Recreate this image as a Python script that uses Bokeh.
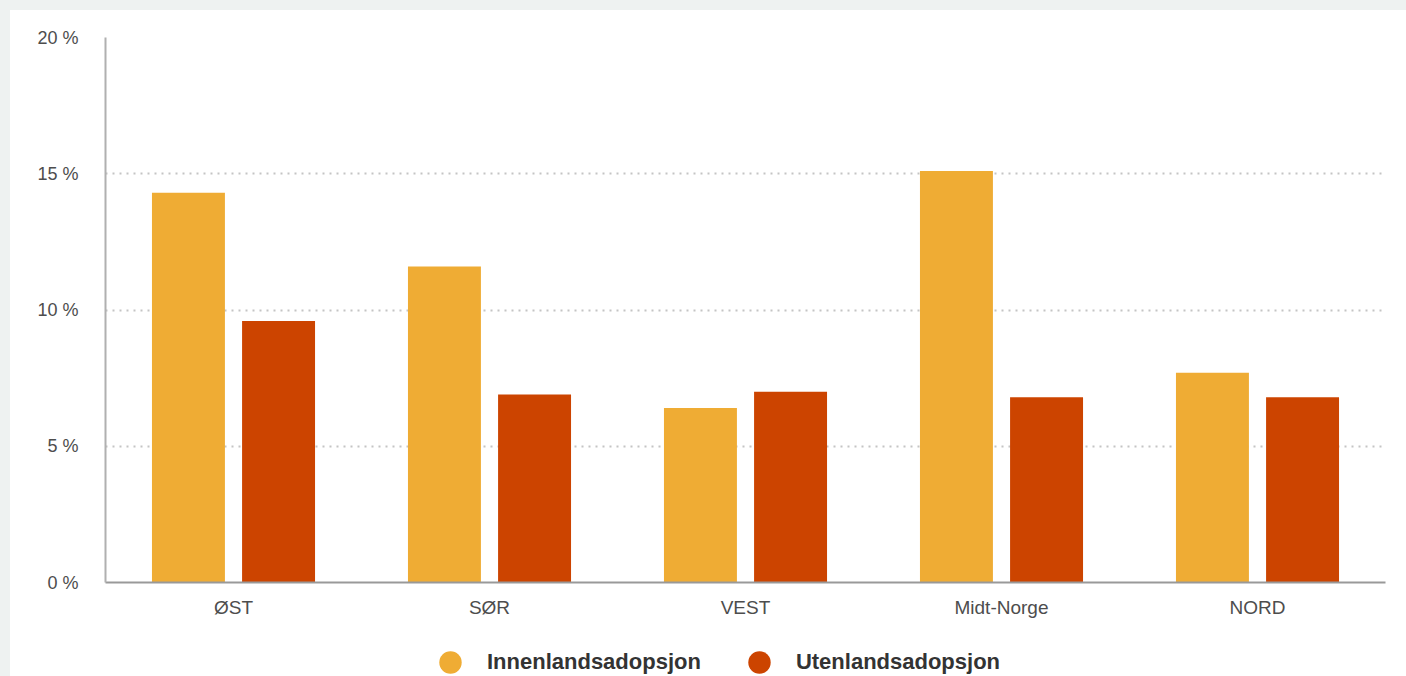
from bokeh.plotting import figure
from bokeh.layouts import column
from bokeh.models import (ColumnDataSource, FactorRange, FixedTicker, PrintfTickFormatter, Legend,
                          LegendItem)
from bokeh.transform import dodge
from bokeh.embed import file_html
from bokeh.resources import INLINE

regions = ["ØST", "SØR", "VEST", "Midt-Norge", "NORD"]
innenlands = [14.3, 11.6, 6.4, 15.1, 7.7]
utenlands = [9.6, 6.9, 7.0, 6.8, 6.8]
y_ticks = [0, 5, 10, 15, 20]
series_names = ["Innenlandsadopsjon", "Utenlandsadopsjon"]
colors = ["#EFAC34", "#CC4400"]

src = ColumnDataSource(dict(region=regions, innen=innenlands, uten=utenlands))

p = figure(width=1396, height=612, x_range=FactorRange(factors=regions), y_range=(0, 20),
           output_backend="svg", toolbar_location=None,
           min_border_left=95, min_border_right=21, min_border_top=27, min_border_bottom=40)
p.outline_line_color = None
p.background_fill_color = "white"
p.border_fill_color = "white"

p.vbar(x=dodge("region", -0.176, range=p.x_range), top="innen", width=0.285, source=src,
       fill_color=colors[0], line_color=None)
p.vbar(x=dodge("region", 0.176, range=p.x_range), top="uten", width=0.285, source=src,
       fill_color=colors[1], line_color=None)

p.xgrid.grid_line_color = None
p.ygrid.ticker = FixedTicker(ticks=y_ticks)
p.ygrid.grid_line_color = "#c4c4c4"
p.ygrid.grid_line_dash = "2 5"
p.ygrid.grid_line_width = 2

p.yaxis.ticker = FixedTicker(ticks=y_ticks)
p.yaxis.formatter = PrintfTickFormatter(format="%d %%")
p.yaxis.major_tick_line_color = None
p.yaxis.minor_tick_line_color = None
p.yaxis.axis_line_color = "#b0b0b0"
p.yaxis.axis_line_width = 2
p.yaxis.major_label_standoff = 21
p.yaxis.major_label_text_font = "Liberation Sans"
p.yaxis.major_label_text_font_size = "18px"
p.yaxis.major_label_text_color = "#4d4d4d"

p.xaxis.major_tick_line_color = None
p.xaxis.minor_tick_line_color = None
p.xaxis.axis_line_color = "#999999"
p.xaxis.axis_line_width = 2
p.xaxis.major_label_standoff = 8
p.xaxis.major_label_text_font = "Liberation Sans"
p.xaxis.major_label_text_font_size = "19px"
p.xaxis.major_label_text_color = "#4d4d4d"

# legend strip: its scatter renderers use the data but fall outside this strip's ranges
p2 = figure(width=1396, height=54, x_range=(100, 101), y_range=(100, 101),
            x_axis_type=None, y_axis_type=None, output_backend="svg", toolbar_location=None,
            min_border=0)
p2.outline_line_color = None
p2.border_fill_color = "white"
p2.background_fill_color = "white"
e1 = p2.scatter(x="innen", y="uten", source=src, marker="circle",
                fill_color=colors[0], line_color=None)
e2 = p2.scatter(x="uten", y="innen", source=src, marker="circle",
                fill_color=colors[1], line_color=None)

legend = Legend(items=[LegendItem(label=series_names[0], renderers=[e1]),
                       LegendItem(label=series_names[1], renderers=[e2])],
                orientation="horizontal", location=(317, -14))
legend.padding = 0
legend.margin = 0
legend.spacing = 30
legend.label_standoff = 9
legend.glyph_width = 56
legend.glyph_height = 56
legend.border_line_color = None
legend.background_fill_alpha = 0
legend.label_text_font = "Liberation Sans"
legend.label_text_font_style = "bold"
legend.label_text_font_size = "22px"
legend.label_text_color = "#333333"
p2.add_layout(legend, "center")

inner = column(p, p2, styles={"background-color": "white"})
layout = column(inner, styles={"background-color": "#eef2f1", "padding": "10px 0 0 10px"})

open("out.html", "w").write(file_html(layout, INLINE))
